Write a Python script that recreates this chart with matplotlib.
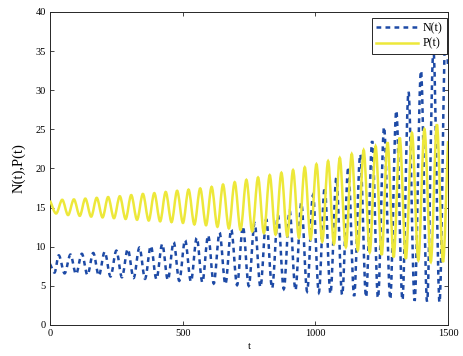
import matplotlib

matplotlib.use("Agg")

import matplotlib.pyplot as plt
from matplotlib.lines import Line2D
from matplotlib.patches import PathPatch
from matplotlib.path import Path
import numpy as np

plt.rcParams["font.family"] = ["Liberation Serif", "DejaVu Serif"]
plt.rcParams["font.size"] = 7.5

# turning points of each series (time, value), read in order
P_PEAK_T = [0, 46, 90, 133, 176, 219, 263, 306, 350, 393, 436, 479, 522, 566, 609, 652, 696,
            740, 784, 828, 872, 916, 960, 1004, 1048, 1092, 1137, 1182, 1227, 1272, 1318,
            1364, 1411, 1458]
P_PEAK = [15.9, 16.0, 16.05, 16.15, 16.25, 16.35, 16.45, 16.6, 16.75, 16.85, 17.0, 17.15,
          17.3, 17.45, 17.65, 17.95, 18.25, 18.55, 18.85, 19.15, 19.45, 19.8, 20.15, 20.55,
          20.95, 21.35, 21.85, 22.35, 22.85, 23.35, 23.95, 24.55, 25.05, 25.65]
P_TROUGH_T = [23, 68, 112, 155, 198, 241, 285, 328, 372, 415, 458, 501, 544, 588, 631, 674,
              718, 762, 806, 850, 894, 938, 982, 1026, 1070, 1115, 1160, 1205, 1250, 1295,
              1341, 1388, 1435, 1481]
P_TROUGH = [14.25, 14.05, 13.95, 13.85, 13.75, 13.65, 13.55, 13.45, 13.35, 13.25, 13.15,
            13.05, 12.85, 12.75, 12.55, 12.35, 12.15, 11.95, 11.75, 11.55, 11.35, 11.15,
            10.95, 10.65, 10.35, 9.95, 9.55, 9.3, 8.95, 8.65, 8.45, 8.25, 8.05, 8.05]
P_END = (1500, 23.5)

N_START = (0, 7.8)
N_TROUGH_T = [17, 55, 98, 141, 184, 228, 271, 315, 358, 401, 444, 487, 531, 574, 617, 661,
              705, 749, 793, 837, 881, 925, 969, 1013, 1057, 1101, 1146, 1191, 1236, 1282,
              1328, 1374, 1421, 1468]
N_TROUGH = [6.7, 6.6, 6.5, 6.4, 6.3, 6.2, 6.1, 6.0, 5.9, 5.85, 5.75, 5.65, 5.55, 5.45, 5.3,
            5.2, 5.1, 5.0, 4.85, 4.7, 4.6, 4.45, 4.3, 4.15, 4.0, 3.85, 3.7, 3.55, 3.45, 3.3,
            3.2, 3.1, 3.0, 2.9]
N_PEAK_T = [33, 77, 120, 163, 206, 250, 293, 337, 380, 423, 466, 509, 553, 596, 639, 683,
            727, 771, 815, 859, 903, 947, 991, 1035, 1079, 1124, 1169, 1214, 1259, 1305,
            1351, 1398, 1445, 1491]
N_PEAK = [8.9, 9.0, 9.1, 9.2, 9.35, 9.5, 9.7, 9.9, 10.1, 10.35, 10.6, 10.85, 11.15, 11.45,
          11.8, 12.2, 12.6, 13.05, 13.5, 14.0, 14.6, 15.6, 16.6, 17.6, 18.8, 20.2, 21.8,
          23.5, 25.3, 27.4, 29.8, 32.5, 35.2, 38.2]
N_END = (1500, 33.0)

N_COLOR = "#1d4aa6"
P_COLOR = "#ede83a"


def interleave(a_t, a_v, b_t, b_v):
    t, v = [], []
    for i in range(len(a_t)):
        t += [a_t[i], b_t[i]]
        v += [a_v[i], b_v[i]]
    return t, v


def smooth_path(t, y):
    # cubic segments with flat tangents at the turning points, secant slope at the ends
    t = np.asarray(t, float)
    y = np.asarray(y, float)
    m = np.zeros_like(y)
    m[0] = (y[1] - y[0]) / (t[1] - t[0])
    m[-1] = (y[-1] - y[-2]) / (t[-1] - t[-2])
    verts = [(t[0], y[0])]
    codes = [Path.MOVETO]
    for i in range(len(t) - 1):
        d = (t[i + 1] - t[i]) / 3.0
        verts += [(t[i] + d, y[i] + m[i] * d),
                  (t[i + 1] - d, y[i + 1] - m[i + 1] * d),
                  (t[i + 1], y[i + 1])]
        codes += [Path.CURVE4] * 3
    return Path(verts, codes)


pt, pv = interleave(P_PEAK_T, P_PEAK, P_TROUGH_T, P_TROUGH)
pt.append(P_END[0])
pv.append(P_END[1])

nt, nv = interleave(N_TROUGH_T, N_TROUGH, N_PEAK_T, N_PEAK)
nt = [N_START[0]] + nt + [N_END[0]]
nv = [N_START[1]] + nv + [N_END[1]]

fig = plt.figure(figsize=(4.64, 3.56), dpi=100)
ax = fig.add_axes([0.1078, 0.0871, 0.8578, 0.8792])

LW = 1.8
DASH = (1.9, 1.7)

ax.add_patch(PathPatch(smooth_path(nt, nv), fill=False, edgecolor=N_COLOR, lw=LW,
                       linestyle=(0, DASH), capstyle="butt", zorder=2))
ax.add_patch(PathPatch(smooth_path(pt, pv), fill=False, edgecolor=P_COLOR, lw=LW,
                       capstyle="butt", zorder=3))

ax.set_xlim(0, 1500)
ax.set_ylim(0, 40)
ax.set_xticks([0, 500, 1000, 1500])
ax.set_yticks(np.arange(0, 41, 5))
ax.tick_params(direction="in", length=3, width=0.6, top=True, right=True,
               colors="#262626", labelcolor="black", pad=3)
for sp in ax.spines.values():
    sp.set_color("#262626")
    sp.set_linewidth(0.7)

ax.set_xlabel("t", fontsize=8)
ax.set_ylabel("N(t),P(t)", fontsize=10.5)
ax.xaxis.set_label_coords(0.5, -0.055)
ax.yaxis.set_label_coords(-0.062, 0.5)

handles = [
    Line2D([], [], color=N_COLOR, lw=LW, dashes=DASH, dash_capstyle="butt"),
    Line2D([], [], color=P_COLOR, lw=LW),
]
leg = ax.legend(handles, ["N(t)", "P(t)"], loc="upper right", fontsize=8.6,
                bbox_to_anchor=(0.9975, 0.981), borderaxespad=0, fancybox=False,
                framealpha=1, edgecolor="#262626", handlelength=3.5, handletextpad=0.4,
                borderpad=0.35, labelspacing=0.3)
leg.get_frame().set_linewidth(0.7)

fig.savefig("out.png", dpi=100)
